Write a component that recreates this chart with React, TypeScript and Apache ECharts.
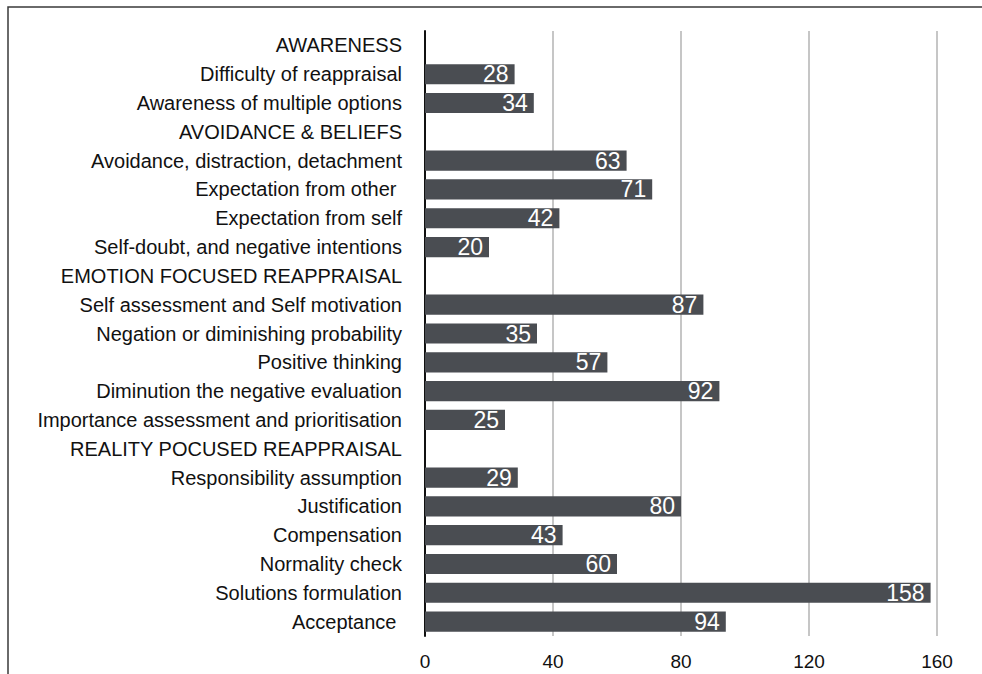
import React, { useEffect, useRef } from "react";
import * as echarts from "echarts";

const categories = [
  "AWARENESS",
  "Difficulty of reappraisal",
  "Awareness of multiple options",
  "AVOIDANCE & BELIEFS",
  "Avoidance, distraction, detachment",
  "Expectation from other ",
  "Expectation from self",
  "Self-doubt, and negative intentions",
  "EMOTION FOCUSED REAPPRAISAL",
  "Self assessment and Self motivation",
  "Negation or diminishing probability",
  "Positive thinking",
  "Diminution the negative evaluation",
  "Importance assessment and prioritisation",
  "REALITY POCUSED REAPPRAISAL",
  "Responsibility assumption",
  "Justification",
  "Compensation",
  "Normality check",
  "Solutions formulation",
  "Acceptance ",
];

const values: (number | null)[] = [
  null, 28, 34, null, 63, 71, 42, 20, null, 87, 35, 57, 92, 25, null, 29, 80, 43, 60, 158, 94,
];

const xTicks = [0, 40, 80, 120, 160];

const FONT = "'Liberation Sans', Arial, Helvetica, sans-serif";

export default function App() {
  const ref = useRef<HTMLDivElement>(null);
  useEffect(() => {
    if (!ref.current) return;
    const chart = echarts.init(ref.current, null, { renderer: "svg" });
    chart.setOption({
      animation: false,
      textStyle: { fontFamily: FONT },
      graphic: [
        {
          type: "rect",
          shape: { x: 8, y: 7, width: 1200, height: 1000 },
          style: { fill: "none", stroke: "#3a3a3a", lineWidth: 1.5 },
          silent: true,
        },
      ],
      grid: { left: 425, right: 45, top: 31, bottom: 38 },
      xAxis: {
        type: "value",
        min: xTicks[0],
        max: xTicks[xTicks.length - 1],
        interval: 40,
        axisLine: { show: false },
        axisTick: { show: false },
        splitLine: { show: true, lineStyle: { color: "#b3b3b3", width: 1.5 } },
        axisLabel: { fontSize: 19, color: "#111", margin: 16, fontFamily: FONT },
      },
      yAxis: {
        type: "category",
        inverse: true,
        data: categories,
        axisLine: { show: true, lineStyle: { color: "#111", width: 2 } },
        axisTick: { show: false },
        axisLabel: { fontSize: 20, color: "#111", margin: 23, fontFamily: FONT },
      },
      series: [
        {
          type: "bar",
          data: values,
          barCategoryGap: "30%",
          itemStyle: { color: "#4a4d52" },
          label: {
            show: true,
            position: "insideRight",
            distance: 6,
            color: "#fff",
            fontSize: 23,
            fontFamily: FONT,
          },
        },
      ],
    });
    return () => chart.dispose();
  }, []);
  return (
    <div
      ref={ref}
      style={{ position: "absolute", left: 0, top: 0, width: 982, height: 674 }}
    />
  );
}
